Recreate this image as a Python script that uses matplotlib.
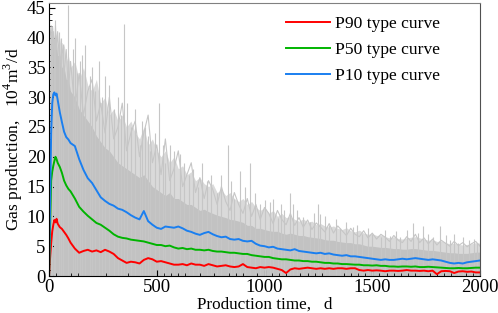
import numpy as np
import matplotlib
matplotlib.use("Agg")
import matplotlib.pyplot as plt
from matplotlib.ticker import MultipleLocator

# ================================
# 1) DATA (read off the reference chart)
# ================================
days = [0, 5, 10, 15, 20, 25, 30, 35, 40, 50, 60, 70, 80, 90, 100] + list(range(120, 2001, 20))

p10 = [0, 12, 24, 29, 30.5, 30.8, 30.3, 30.6, 29.6, 27.5, 25.8, 24.2, 23.3, 22.9, 22.3,
       21.8, 19.6, 17.8, 16.4, 15.6, 14.4, 13.2, 12.6, 12.1, 11.8,
       11.3, 11.1, 10.7, 10.2, 9.8, 9.5, 10.9, 9.2, 8.6, 8.1,
       7.9, 8.3, 8.2, 8.1, 8.3, 8.0, 7.6, 7.4, 7.1, 6.9,
       7.2, 7.4, 7.0, 6.7, 6.5, 6.6, 6.2, 6.1, 6.2, 5.9,
       5.8, 5.9, 5.4, 5.1, 5.0, 4.8, 4.9, 4.6, 4.5, 4.4,
       4.3, 4.5, 4.2, 4.1, 4.0, 3.9, 3.8, 3.9, 3.7, 3.8,
       3.6, 3.5, 3.4, 3.5, 3.3, 3.3, 3.2, 3.1, 3.0, 2.9,
       2.8, 2.7, 2.8, 2.7, 2.7, 2.8, 2.9, 2.8, 2.9, 3.0,
       2.9, 2.8, 2.7, 2.8, 2.7, 2.6, 2.4, 2.2, 2.1, 2.2,
       2.1, 2.3, 2.4, 2.5, 2.6]

p50 = [0, 8, 16, 17.5, 18.5, 19.3, 20.0, 19.6, 19.0, 18.3, 17.3, 16.0, 15.2, 14.6, 14.2,
       13.0, 11.6, 10.8, 10.1, 9.5, 8.9, 8.6, 8.1, 7.6, 7.0,
       6.6, 6.4, 6.3, 6.1, 6.0, 5.9, 5.8, 5.6, 5.4, 5.2,
       5.2, 5.0, 5.1, 4.8, 4.6, 4.7, 4.5, 4.6, 4.4, 4.4,
       4.3, 4.4, 4.2, 4.1, 4.1, 4.0, 3.9, 3.9, 3.8, 3.7,
       3.7, 3.5, 3.4, 3.3, 3.2, 3.2, 3.0, 2.9, 2.8, 2.8,
       2.7, 2.6, 2.6, 2.5, 2.5, 2.4, 2.4, 2.3, 2.2, 2.2,
       2.1, 2.1, 2.0, 2.0, 1.95, 1.9, 1.9, 1.8, 1.8, 1.75,
       1.8, 1.7, 1.7, 1.6, 1.6, 1.55, 1.6, 1.6, 1.55, 1.6,
       1.5, 1.5, 1.55, 1.5, 1.45, 1.4, 1.35, 1.3, 1.3, 1.35,
       1.3, 1.3, 1.35, 1.4, 1.4]

p90 = [0, 3, 5.5, 7.5, 8.6, 9.4, 9.0, 9.6, 8.8, 8.2, 7.9, 7.4, 6.9, 6.3, 5.6,
       4.6, 3.9, 4.2, 4.4, 4.1, 4.3, 4.0, 4.4, 4.1, 3.7,
       3.0, 2.6, 2.2, 2.4, 2.3, 2.1, 2.7, 3.0, 2.8, 2.4,
       2.5, 2.3, 2.1, 1.9, 1.9, 2.0, 1.8, 2.1, 1.9, 1.9,
       1.7, 2.0, 1.8, 1.6, 1.7, 1.8, 1.6, 1.5, 1.6, 2.0,
       1.5, 1.4, 1.3, 1.5, 1.4, 1.5, 1.4, 1.2, 1.0, 0.5,
       1.1, 1.3, 1.2, 1.3, 1.4, 1.3, 1.2, 1.3, 1.2, 1.3,
       1.2, 1.3, 1.3, 1.2, 1.3, 1.3, 1.0, 0.9, 1.0, 0.9,
       0.95, 0.9, 0.8, 0.9, 0.9, 0.85, 0.9, 1.0, 0.9, 0.9,
       0.85, 0.9, 0.8, 0.9, 0.3, 0.8, 0.85, 0.8, 0.5, 0.75,
       0.8, 0.7, 0.75, 0.6, 0.6]

# dense grey band formed by the overlapping well curves
wells_band = [0, 33, 38, 39, 41, 38, 40, 39, 37, 37, 35, 35, 33, 33, 31,
              30, 28, 27, 26, 25, 23.5, 22.5, 21.5, 21, 20,
              19, 18.5, 18, 17.5, 17, 16.5, 17, 16, 15, 14.5,
              14, 13.5, 14, 13, 13, 12.5, 12, 12, 11.5, 11,
              11.2, 10.8, 10.5, 10.2, 10, 9.8, 9.5, 9.4, 9.2, 9.0,
              8.5, 8.5, 8, 8, 7.8, 7.6, 7.5, 7.5, 7.2, 7.0,
              7.2, 7.0, 6.8, 6.8, 6.6, 6.5, 6.4, 6.3, 6.1, 6.0,
              6.0, 5.8, 5.7, 5.6, 5.6, 5.4, 5.4, 5.2, 5.0, 5.0,
              4.9, 4.8, 4.8, 4.7, 4.6, 4.6, 4.5, 4.5, 4.6, 4.6,
              4.5, 4.4, 4.3, 4.3, 4.2, 4.1, 4.0, 3.9, 3.9, 3.8,
              3.8, 3.8, 3.9, 4.0, 4.0]

# lighter haze of sparser well curves above the dense band
wells_haze = [0, 38, 41, 40, 42, 39, 41, 40, 38, 40, 37, 39, 36, 37, 35,
              36, 33, 35, 32, 31, 33, 29, 30, 27, 28,
              26, 27, 25, 26, 24, 23, 25, 22, 23, 21,
              20, 21, 19, 20, 18, 18.5, 17, 17.5, 16, 16.5,
              15.5, 15, 15.5, 14, 14.5, 13.5, 14, 13, 12.5, 13,
              12, 12.5, 11.5, 11, 11.5, 10.5, 11, 10, 10.5, 9.8,
              10, 9.5, 9.2, 9.6, 9, 9.2, 8.6, 8.8, 8.4, 8.2,
              8.4, 8, 7.8, 8.1, 7.6, 7.4, 7.7, 7.2, 7, 7.1,
              6.8, 6.9, 6.6, 6.4, 6.6, 6.3, 6.2, 6.4, 6.5, 6.6,
              6.4, 6.2, 6.0, 6.1, 5.8, 5.9, 5.6, 5.4, 5.5, 5.3,
              5.2, 5.3, 5.4, 5.6, 5.5]

# one noisy high producer
well_high = [0, 40, 42, 37, 41, 36, 42, 38, 41, 35, 39, 34, 38, 31, 36,
             28, 34, 27, 31, 33, 26, 29, 24, 30, 23,
             25, 29, 21, 24, 26, 20, 24, 27, 19, 22,
             17, 23, 16, 18, 21, 15, 17, 19, 14, 16.5,
             13, 16, 14.5, 12, 15, 12.5, 11, 14, 12, 10.5,
             13, 10, 12, 9.5, 11.5, 10.5, 8.8, 11, 9.5, 8.6,
             10.5, 8.5, 9.8, 8.2, 9.4, 7.8, 8.9, 8.2, 7.4, 8.8,
             7.2, 8.4, 7.6, 6.8, 8, 7, 6.6, 7.6, 6.4, 7.2,
             6.2, 7, 6.5, 5.8, 6.8, 6, 5.6, 6.6, 5.8, 7,
             5.6, 6.4, 5.4, 6.2, 5.2, 6, 5.5, 5, 5.8, 5.1,
             5.6, 4.9, 5.4, 5.8, 5]

# single-day spikes of individual wells
spike_days = [8, 15, 22, 30, 45, 55, 65, 90, 110, 120, 130, 144, 155,
              167, 190, 200, 215, 230, 245, 260, 280, 300, 320, 335, 348, 360,
              380, 400, 420, 430, 446, 460, 470, 490, 512, 530, 540, 561, 580,
              608, 625, 650, 670, 692, 710, 732, 750, 780, 800, 831, 845, 860,
              886, 910, 933, 955, 980, 1002, 1026, 1040, 1063, 1075, 1090, 1118,
              1133, 1150, 1180, 1210, 1230, 1248, 1257, 1280, 1300, 1330, 1350,
              1380, 1411, 1430, 1452, 1480, 1500, 1540, 1560, 1582, 1610, 1630,
              1660, 1690, 1710, 1736, 1760, 1780, 1814, 1840, 1860, 1880, 1900,
              1920, 1950, 1970, 1986]
spike_tops = [41, 42, 40, 43, 41, 40, 39, 45.5, 38, 40, 34, 36, 37,
              38.8, 33.5, 35, 31, 36, 30, 33.5, 32, 28, 30, 27, 42.3, 29,
              25, 28, 22, 26, 25, 23.5, 21, 24, 29, 22, 19, 22, 21,
              20.5, 19, 17, 18, 15, 19, 16, 17, 14, 17, 22, 16, 13,
              17.6, 15, 19, 14, 12, 12.8, 12.4, 13, 9.8, 12, 11, 14,
              12, 11, 9.9, 9, 10.5, 12, 10.4, 10, 8.5, 9.5, 8,
              9, 8.3, 8.5, 7.1, 8, 7, 6.5, 7.8, 6.7, 7.5, 6.5,
              7.8, 8.9, 7.2, 8.4, 7, 6.5, 8.4, 6.8, 6, 7, 5.5,
              6.5, 6, 6.2, 5.6]

# ================================
# 2) STYLE
# ================================
plt.rcParams['font.family'] = ['Liberation Serif', 'DejaVu Serif']
plt.rcParams['mathtext.fontset'] = 'custom'
plt.rcParams['mathtext.rm'] = 'Liberation Serif'
plt.rcParams['font.size'] = 12

fig = plt.figure(figsize=(4.98, 3.13), dpi=100)
ax = fig.add_axes([0.0984, 0.1182, 0.8655, 0.8722])

ax.fill_between(days, 0, wells_haze, color='#dadada', lw=0)
ax.fill_between(days, 0, wells_band, color='#c2c2c2', lw=0)
ax.vlines(spike_days, 0, spike_tops, color='#c6c6c6', lw=0.8)
ax.plot(days, well_high, color='#c6c6c6', lw=0.8)

ax.plot(days, p90, color='#ff0000', lw=1.4, label='P90 type curve')
ax.plot(days, p50, color='#00b400', lw=1.4, label='P50 type curve')
ax.plot(days, p10, color='#1a7ff0', lw=1.4, label='P10 type curve')

ax.set_xlim(0, 2000)
ax.set_ylim(0, 45.8)
ax.xaxis.set_major_locator(MultipleLocator(500))
ax.xaxis.set_minor_locator(MultipleLocator(100 / 3))
ax.yaxis.set_major_locator(MultipleLocator(5))
ax.yaxis.set_minor_locator(MultipleLocator(1))
ax.tick_params(which='both', direction='in', labelsize=13.5, pad=2.5)
ax.tick_params(which='major', length=4)
ax.tick_params(which='minor', length=2)

ax.spines['top'].set_color('#808080')
ax.spines['right'].set_color('#505050')

ax.set_xlabel('Production time,   d', fontsize=12.3, labelpad=0)
ax.set_ylabel('Gas production,   10$^4$m$^3$/d', fontsize=12.5, labelpad=1)

ax.legend(loc='upper left', bbox_to_anchor=(0.55, 0.952), frameon=False,
          borderpad=0, borderaxespad=0, handlelength=2.5, handletextpad=0.3,
          labelspacing=0.55, fontsize=12.6)

fig.savefig('out.png', dpi=100)
